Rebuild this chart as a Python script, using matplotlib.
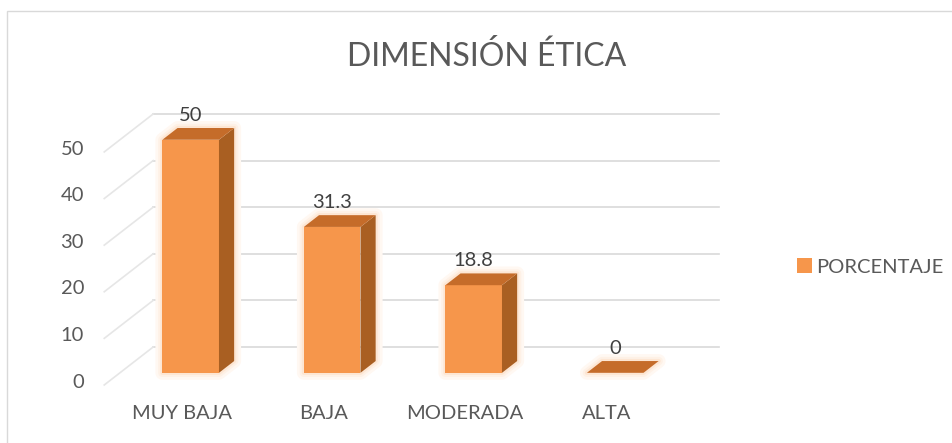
import matplotlib
matplotlib.use("Agg")
import matplotlib.pyplot as plt
from matplotlib.patches import Polygon, Patch, Rectangle

# data
categories = ["MUY BAJA", "BAJA", "MODERADA", "ALTA"]
porcentaje = [50, 31.3, 18.8, 0]
y_ticks = [0, 10, 20, 30, 40, 50]
title = "DIMENSIÓN ÉTICA"
series_name = "PORCENTAJE"

plt.rcParams['font.family'] = ['Lato', 'DejaVu Sans']
TXT = "#595959"
FRONT, SIDE, TOP = "#F6964B", "#A95F22", "#C56C2A"
GRID = "#D9D9D9"

# oblique "3D" projection: depth 1 shifts right (categories) and up (values)
DX, DY = 0.346, 8.15
bar_w = 0.40
d0, d1 = 0.32, 0.63


def proj(x, v, d):
    return (x + d * DX, v + d * DY)


fig = plt.figure(figsize=(9.52, 4.43), dpi=100)
ax = fig.add_axes([0, 0, 1, 1])
ax.set_xlim(-1.2367, 5.491)
ax.set_ylim(-12.45, 82.6)
ax.axis("off")

# back wall and side wall gridlines
x_left, x_right = -0.5, len(categories) - 0.5
for v in y_ticks:
    p0, p1 = proj(x_left, v, 1), proj(x_right, v, 1)
    ax.plot([p0[0], p1[0]], [p0[1], p1[1]], color=GRID, lw=1.2, zorder=1)
    q0 = proj(x_left, v, 0)
    ax.plot([q0[0], p0[0]], [q0[1], p0[1]], color="#E6E6E6", lw=1.2, zorder=1)
    ax.text(-0.643, v + 0.6, str(v), ha="right", va="center", fontsize=14.5, color=TXT)

# bars
for i, v in enumerate(porcentaje):
    x0, x1 = i - bar_w / 2, i + bar_w / 2
    front = [proj(x0, 0, d0), proj(x1, 0, d0), proj(x1, v, d0), proj(x0, v, d0)]
    side = [proj(x1, 0, d0), proj(x1, 0, d1), proj(x1, v, d1), proj(x1, v, d0)]
    top = [proj(x0, v, d0), proj(x1, v, d0), proj(x1, v, d1), proj(x0, v, d1)]
    outline = [proj(x0, 0, d0), proj(x1, 0, d0), proj(x1, 0, d1),
               proj(x1, v, d1), proj(x0, v, d1), proj(x0, v, d0)]
    # soft glow around the bar
    for lw, col in [(10, "#FFF8F2"), (6, "#FEF1E6"), (3, "#FDE6D3")]:
        ax.add_patch(Polygon(outline, closed=True, facecolor="none",
                             edgecolor=col, lw=lw, joinstyle="round", zorder=2))
    if v > 0:
        ax.add_patch(Polygon(front, closed=True, facecolor=FRONT, edgecolor="none", zorder=3))
        ax.add_patch(Polygon(side, closed=True, facecolor=SIDE, edgecolor="none", zorder=3))
    ax.add_patch(Polygon(top, closed=True, facecolor=TOP, edgecolor="none", zorder=3))
    lbl = f"{v:g}"
    ax.text(i + d0 * DX, v + 7.8, lbl, ha="center", va="center", fontsize=14.5, color="#404040")
    ax.text(i + 0.05, -6.2, categories[i], ha="center", va="center", fontsize=14.5, color=TXT)

fig.text(487 / 952, 1 - 56 / 443, title, ha="center", va="center", fontsize=23, color=TXT)

fig.legend(handles=[Patch(facecolor=FRONT, edgecolor="none", label=series_name)],
           loc="center left", bbox_to_anchor=(779 / 952, 1 - 267 / 443),
           frameon=False, fontsize=14.5, handlelength=0.75, handleheight=0.75,
           handletextpad=0.2, labelcolor=TXT)

fig.add_artist(Rectangle((7 / 952, -0.1), 2, 1 - 11 / 443 + 0.1, transform=fig.transFigure,
                         facecolor="none", edgecolor=GRID, lw=1))

fig.savefig("out.png", dpi=100)
